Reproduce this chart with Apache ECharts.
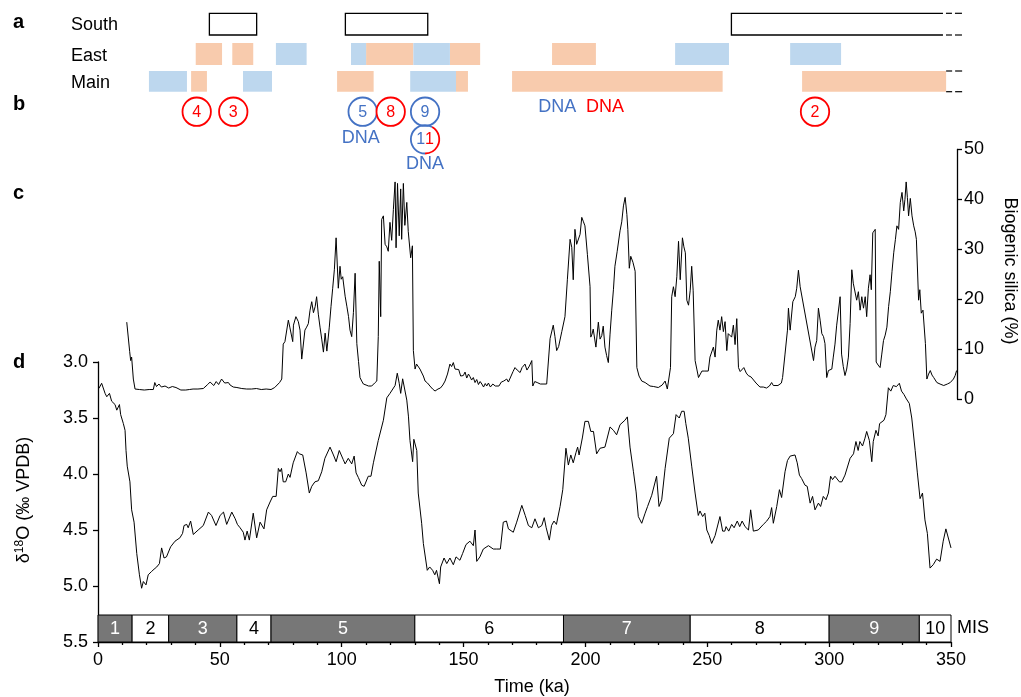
<!DOCTYPE html>
<html><head><meta charset="utf-8">
<script src="https://cdn.jsdelivr.net/npm/echarts@6.0.0/dist/echarts.min.js"></script>
<style>html,body{margin:0;padding:0;background:#fff}#c{width:1021px;height:697px}</style>
</head><body><div id="c"></div>
<script>
// ---------------- DATA ----------------
// MIS stages (boundaries in ka)
const misBounds = [0, 14, 29, 57, 71, 130, 191, 243, 300, 337, 350];
const misLabels = ['1','2','3','4','5','6','7','8','9','10'];
const misDark = [true,false,true,false,true,false,true,false,true,false];

// panel a: [start ka, end ka, openEnded]
const southBoxes = [[45.7, 65.1, 0], [101.5, 135.3, 0], [259.9, 346.7, 1]];
const eastOrange = [[40.1, 50.9, 0], [55.1, 63.7, 0], [110.0, 129.4, 0], [144.4, 156.8, 0], [186.3, 204.3, 0]];
const eastBlue = [[73.0, 85.6, 0], [103.8, 110.0, 0], [129.4, 144.4, 0], [236.8, 258.9, 0], [284.0, 304.9, 0]];
const mainOrange = [[38.2, 44.7, 0], [98.1, 113.1, 0], [146.9, 151.8, 0], [169.9, 256.3, 0], [288.9, 348.0, 1]];
const mainBlue = [[20.9, 36.5, 0], [59.5, 71.4, 0], [128.1, 146.9, 0]];
const rowNames = ['South', 'East', 'Main'];

// panel b: site markers
const circleTimes = [40.5, 55.5, 108.6, 120.1, 134.2, 294.2];
const circleLabels = ['4', '3', '5', '8', '9', '2'];
const circleColors = ['red', 'red', 'blue', 'red', 'blue', 'red'];
const splitCircleTime = 134.2;      // circle "11", half blue / half red
const splitCircleDigits = ['1', '1'];
const dnaTimes = [107.8, 134.2, 188.4, 208.0];
const dnaColors = ['blue', 'blue', 'blue', 'red'];
const dnaLevels = [1, 2, 0, 0];

// tick labels
const xTicks = [0, 50, 100, 150, 200, 250, 300, 350];
const d18oTicks = [3.0, 3.5, 4.0, 4.5, 5.0, 5.5];
const silicaTicks = [0, 10, 20, 30, 40, 50];

// panel c: biogenic silica (%) [ka, %]
const silica = [[11.8,15.4],[13.0,9.5],[13.4,7.7],[13.8,8.4],[14.5,4.0],[15.2,2.0],[17,1.9],[19,1.8],[21,1.9],[22.7,1.9],[23.3,3.3],[24,2.5],[25,3.0],[26,2.4],[27.5,2.6],[29,2.2],[30.5,2.5],[32,2.3],[34,1.8],[36,1.8],[37.5,1.9],[39,2.0],[41,2.0],[43.2,2.1],[45,2.9],[46,3.4],[47.5,2.7],[48.5,3.5],[49.5,2.9],[50.7,4.0],[52,3.2],[53.5,3.3],[54.2,2.8],[55.5,2.4],[57,2.3],[59,2.1],[61,2.0],[63,2.0],[65,2.1],[67,1.9],[69,2.0],[71,1.9],[72.5,2.3],[73.3,2.7],[74.5,3.3],[75.4,4.0],[76,11.0],[76.7,11.5],[77.4,11.3],[78.1,15.8],[78.7,14.4],[79.3,14.8],[79.9,11.5],[80.2,14.8],[81.2,16.5],[82.2,15.5],[82.9,13.8],[83.6,8.0],[84.2,8.4],[84.9,13.8],[85.6,14.4],[86.3,15.1],[87,17.8],[87.7,19.5],[88.4,17.3],[89.1,18.5],[89.7,20.5],[90.4,17.0],[91.1,14.4],[91.8,12.0],[92.5,9.4],[93.2,13.2],[93.9,9.6],[94.9,14.4],[95.6,18.5],[96.3,22.2],[97,26],[97.7,32.3],[98.6,22.2],[99.3,26.6],[99.8,24.0],[100.4,24.5],[101.4,20.6],[102.1,18.6],[102.8,16.5],[103.4,13.8],[104.1,12.5],[104.8,17.3],[105.5,25.2],[106.2,11.1],[106.9,7.5],[107.5,4.3],[108.2,3.6],[108.9,3.0],[110,2.8],[111,2.6],[112.3,2.6],[113.5,3.2],[114.4,3.6],[115,12.5],[115.4,27.6],[116,16.5],[116.4,36],[117.1,36.7],[117.8,31],[118.5,30.5],[119.1,29.6],[119.8,35.4],[120.5,31.8],[121.2,38],[121.9,43.5],[122.3,30.3],[122.9,43.2],[123.6,32.7],[124.2,42.1],[124.6,32],[125.3,43.2],[125.9,34.8],[126.7,39.4],[127.3,33.6],[128.3,28.3],[129,30.7],[129.4,9.7],[130.1,6.0],[130.7,7.0],[131.4,7.3],[132.1,6.0],[132.8,5.6],[133.5,4.6],[134.2,3.6],[135.2,3.2],[136.2,2.6],[137.3,2.0],[138.3,1.6],[139.5,2.0],[140.5,2.2],[141.5,2.8],[142.4,3.6],[143.4,5.0],[144.4,7.0],[145.1,6.5],[145.8,7.3],[146.5,6.0],[147.2,5.6],[148,5.9],[148.8,4.6],[149.9,4.7],[150.6,5.4],[151.3,4.2],[152,5.0],[152.6,4.5],[153.3,3.8],[154,4.3],[154.7,3.3],[155.4,3.9],[156.1,2.9],[156.8,3.5],[157.5,3.0],[158.2,2.4],[158.9,3.1],[159.5,2.6],[160.2,3.2],[161,2.4],[162,3.0],[163,2.6],[163.6,3.0],[164.5,2.6],[165.5,3.4],[166.5,3.6],[167.7,4.0],[168.4,3.4],[169.1,3.6],[170.3,5.5],[171.1,6.3],[172,5.8],[173.2,5.3],[174,6.3],[175.2,7.0],[176,5.8],[177,6.6],[178,7.7],[178.4,2.6],[179.2,3.5],[180.2,3.3],[181.5,3.0],[183,3.0],[184.1,3.0],[185.5,12.1],[186.8,14.8],[187.5,12.5],[188.2,9.7],[189,10.5],[190.3,13.5],[191.6,16.5],[192.6,24],[193.7,32],[194.4,30.4],[195,23.9],[195.7,34],[196.4,31],[197.1,30.7],[197.8,33],[198.5,36.4],[199.2,35.5],[199.8,34.7],[200.8,29],[201.9,22.5],[202.2,12.4],[202.7,13],[203.2,14],[204.3,10.4],[205.3,15.4],[206,12],[206.7,12.7],[207.3,14.6],[208,10.4],[208.7,8.7],[209.4,7.3],[210.1,13],[210.8,17.8],[211.5,22],[212.1,26.6],[213,29.5],[214.2,33.7],[214.9,35.5],[215.6,38.7],[216.3,40.4],[217,37],[217.4,34],[218,26.2],[218.6,28.6],[219.5,27.4],[220.4,25.6],[221.1,6.3],[222,4.6],[223.1,3.6],[224.5,3.3],[226.5,2.6],[228,2.5],[229.9,2.3],[231.5,2.8],[232.7,3.6],[233.6,2.0],[234.9,6.3],[235.4,20.5],[236.1,22.5],[236.8,20.5],[237.5,24.5],[238.2,31.6],[238.9,23.9],[239.8,32.3],[240.4,30.5],[241,29.3],[241.6,19.8],[242.3,18.8],[243,21.8],[243.6,26.6],[244.2,21.8],[245,7.7],[245.7,6.0],[246.4,4.3],[247.8,5.6],[249,5.6],[250.4,5.6],[251.1,8.4],[252.5,10.4],[253.2,8.4],[253.9,13.8],[254.5,15.8],[255.2,13.8],[255.9,16.5],[256.6,13.5],[257.3,15.5],[258,9.7],[258.6,13.1],[259.3,12.9],[260,12.4],[260.7,14.8],[261.4,10.9],[262.1,16.1],[262.8,6.3],[263.5,5.5],[264.1,5.7],[265,6.3],[266,5.2],[266.8,4.7],[268,4.4],[268.8,4.0],[270,3.2],[271.6,2.4],[273,2.4],[274.3,2.2],[275.5,2.6],[276.4,3.3],[277.1,2.7],[277.8,2.3],[279,2.7],[279.8,2.6],[280.4,3.2],[280.9,4.3],[281.9,9],[282.9,13.8],[283.3,18.2],[284,13.8],[285.1,19.5],[286.1,20.5],[286.7,22.2],[287.4,25.8],[288.1,22.5],[293.6,7.7],[294.2,10.4],[294.9,11.7],[295.6,18.2],[296.3,15.8],[297,13.1],[297.7,12.5],[298.3,11.1],[299,4.3],[299.7,5.7],[300.4,5.8],[301.1,6.0],[301.7,8.4],[302.4,11],[303.1,14.8],[303.8,14.4],[304.5,20.5],[305.1,9],[305.8,6.5],[306.5,4.7],[307.2,6],[307.9,8.4],[308.6,15.1],[309.3,25.9],[309.9,23.2],[310.6,22.9],[311.3,19.8],[312,21.5],[312.7,17.8],[313.4,20.5],[314.1,18.2],[314.8,20.5],[315.4,16.5],[316.1,22.2],[316.8,24.9],[317.3,21.9],[317.9,33.3],[318.9,34],[319.3,7.4],[320.1,6.8],[320.9,6.3],[321.6,9],[322.3,11.7],[323,12.8],[323.7,14.4],[324.4,18.5],[325.1,21.5],[325.8,25.6],[326.5,29.3],[327.2,32],[327.8,34.7],[328.5,34],[329.2,39.4],[329.9,41.4],[330.6,37.7],[331.1,40],[331.6,43.5],[332.1,40.4],[332.6,36.7],[333.3,40.2],[334,36.7],[334.7,34.7],[335.3,33.5],[335.8,32],[336.7,19.8],[337.2,21.9],[337.8,17.2],[338.5,17.8],[339.5,11.1],[340.1,4.0],[340.8,5.0],[341.5,5.7],[342.2,4.8],[342.9,4.3],[344.2,3.3],[345.5,3.0],[347,2.7],[348.5,3.0],[349.7,3.3],[351,4.0],[351.7,4.7],[352.3,5.7]];

// panel d: benthic δ18O (‰ VPDB) [ka, ‰]
const d18o = [[0.4,3.235],[1.5,3.19],[2.9,3.28],[3.6,3.31],[4.7,3.28],[5.6,3.35],[7,3.38],[7.7,3.43],[8.8,3.38],[9.3,3.47],[10.4,3.55],[11.1,3.61],[11.5,3.79],[12,3.93],[13.1,4.07],[13.8,4.32],[14.8,4.43],[15.9,4.71],[17,4.9],[17.9,5.02],[18.6,4.96],[19.7,4.99],[20.6,4.9],[22,4.87],[23,4.85],[24.1,4.83],[25.2,4.8],[26.1,4.66],[27.1,4.75],[28.1,4.74],[29.8,4.65],[31.6,4.6],[33.6,4.57],[34.7,4.53],[35.3,4.46],[36.4,4.45],[37,4.48],[38,4.42],[39.1,4.54],[41.1,4.5],[43.2,4.46],[45.3,4.34],[46.6,4.37],[48.4,4.46],[50.1,4.37],[51.5,4.34],[52.8,4.45],[54.9,4.34],[56.3,4.4],[57.2,4.45],[58.3,4.48],[59.6,4.52],[60.3,4.59],[61.2,4.51],[62.1,4.59],[63.7,4.35],[65.1,4.57],[66.5,4.43],[68.1,4.49],[69.2,4.32],[70.6,4.25],[71.7,4.2],[73.1,4.2],[74,3.95],[74.7,3.98],[75.3,3.95],[76,4.07],[77,4.07],[78.1,4.0],[78.8,4.03],[80.1,3.9],[81.8,3.8],[82.6,3.82],[84,3.83],[85.4,3.99],[86.7,4.17],[87.7,4.11],[89,4.07],[90.4,4.06],[91.8,3.98],[93.1,3.86],[95.2,3.76],[96.6,3.83],[97.7,3.89],[99,3.79],[100.6,3.87],[101.4,3.91],[102.7,3.86],[104.1,3.91],[105.1,3.84],[105.9,3.99],[106.8,4.03],[108.2,4.1],[109.2,4.11],[110.9,4.02],[112,4.02],[113,3.9],[115,3.7],[117.1,3.52],[118.5,3.32],[119.8,3.28],[121.9,3.21],[122.8,3.1],[123.6,3.19],[124.2,3.28],[125,3.15],[125.7,3.16],[126.7,3.34],[127.4,3.49],[128,3.7],[129.1,3.89],[129.6,3.69],[130.8,3.79],[131.4,4.17],[132.8,4.44],[133.5,4.62],[135.1,4.86],[136.1,4.83],[137.3,4.86],[138.2,4.9],[138.9,4.86],[140.1,4.98],[140.6,4.83],[142,4.75],[143.1,4.8],[144.4,4.75],[145.8,4.81],[146.9,4.74],[148.5,4.77],[149.6,4.71],[151,4.63],[152.6,4.6],[154,4.64],[154.7,4.5],[155.4,4.78],[156.7,4.74],[158.1,4.67],[160.2,4.64],[162.2,4.67],[163.6,4.67],[165.1,4.67],[166.3,4.43],[167.6,4.42],[168.4,4.49],[170.4,4.52],[171.8,4.43],[173.9,4.28],[175.3,4.37],[176.6,4.46],[178,4.48],[179.3,4.4],[180.7,4.48],[182.1,4.46],[183.1,4.39],[183.9,4.48],[185.2,4.59],[186.1,4.46],[187.1,4.42],[188.1,4.45],[189.6,4.29],[190.7,4.14],[192,3.77],[193,3.92],[194,3.83],[195,3.9],[196.1,3.81],[196.8,3.76],[197.4,3.83],[198.8,3.67],[199.8,3.53],[201.2,3.53],[202.2,3.62],[203.3,3.62],[204.6,3.82],[206,3.77],[208,3.76],[210.1,3.58],[211.5,3.61],[212.8,3.65],[214.2,3.56],[216.2,3.52],[217.2,3.49],[218.3,3.76],[219.7,3.98],[220.8,4.16],[221.7,4.38],[223.1,4.44],[224.5,4.35],[225.5,4.29],[227.2,4.19],[229.2,4.02],[230.2,4.29],[231.3,4.23],[232.7,3.95],[234.4,3.68],[236.1,3.64],[237.2,3.47],[238.5,3.5],[239.5,3.44],[240.5,3.44],[241.2,3.55],[242.2,3.68],[243.6,3.93],[245,4.17],[246.3,4.37],[247,4.33],[248.1,4.38],[249,4.35],[249.8,4.5],[250.8,4.55],[251.8,4.62],[253.2,4.55],[253.9,4.56],[255.2,4.38],[256.3,4.51],[257.2,4.51],[257.7,4.47],[258.8,4.51],[260,4.45],[261,4.48],[262.3,4.42],[263.3,4.47],[264.3,4.42],[265.5,4.47],[266.9,4.5],[267.8,4.32],[268.9,4.51],[270.9,4.5],[273,4.45],[274.4,4.42],[275.7,4.38],[276.4,4.3],[277.1,4.44],[278.5,4.29],[279.6,4.14],[280.5,4.21],[281.9,3.98],[282.9,3.88],[284,3.84],[286,3.83],[286.9,3.9],[287.8,4.01],[288.7,4.04],[290.1,4.1],[291,4.11],[292.2,4.26],[293.2,4.2],[294.2,4.32],[295.6,4.26],[296.5,4.29],[297.6,4.2],[298.7,4.23],[299.7,4.17],[300.6,4.02],[301.4,4.05],[302.4,4.02],[303.1,4.01],[304.2,4.07],[305.2,4.07],[306.5,4.01],[308.6,3.86],[310,3.82],[311,3.71],[311.9,3.79],[312.6,3.71],[313.7,3.75],[314.7,3.68],[315.4,3.62],[316.5,3.7],[317.5,3.89],[318.1,3.71],[319.2,3.61],[320.1,3.66],[320.7,3.55],[322.5,3.52],[323.3,3.47],[324.3,3.23],[325.3,3.26],[326.3,3.21],[327.6,3.22],[328.8,3.19],[329.7,3.26],[330.7,3.29],[331.7,3.33],[332.9,3.37],[333.9,3.5],[335.3,3.79],[336.2,3.99],[337.3,4.22],[338.3,4.17],[339.3,4.41],[340.3,4.53],[341.4,4.84],[342.7,4.81],[344.1,4.76],[345.5,4.78],[346.8,4.6],[347.9,4.49],[350,4.66]];

// ---------------- STYLE / LAYOUT ----------------
const FONT = '"Liberation Sans", Arial, Helvetica, sans-serif';
const COLORS = { red: '#FF0000', blue: '#4472C4', orangeFill: '#F8CBAD', blueFill: '#BDD7EE', misDark: '#777777' };
const LAYOUT = {
  rows: [[13.3, 35], [43, 65], [71, 91.7]],   // pixel bands of South / East / Main
  circleY: [111.7, 139.3], circleR: 14.2,
  dnaY: [107, 138.3, 164.5],
  misHeight: 27
};
const X_LEFT = 98, X_WIDTH = 853, SILICA_WIDTH = 859;

// ---------------- CHART ----------------
const chart = echarts.init(document.getElementById('c'), null, { renderer: 'canvas', width: 1021, height: 697 });

const barData = [];
southBoxes.forEach(r => barData.push([r[0], r[1], 0, 2, r[2]]));
eastOrange.forEach(r => barData.push([r[0], r[1], 1, 0, r[2]]));
eastBlue.forEach(r => barData.push([r[0], r[1], 1, 1, r[2]]));
mainOrange.forEach(r => barData.push([r[0], r[1], 2, 0, r[2]]));
mainBlue.forEach(r => barData.push([r[0], r[1], 2, 1, r[2]]));

function renderBar(params, api) {
  const s = api.value(0), e = api.value(1), row = api.value(2), kind = api.value(3), open = api.value(4);
  const x0 = api.coord([s, 0])[0], x1 = api.coord([e, 0])[0];
  const top = LAYOUT.rows[row][0], bot = LAYOUT.rows[row][1];
  const ch = [];
  if (kind === 2) {
    if (open) {
      ch.push({ type: 'polyline', shape: { points: [[x1, top], [x0, top], [x0, bot], [x1, bot]] }, style: { stroke: '#000', fill: null, lineWidth: 1.3 } });
    } else {
      ch.push({ type: 'rect', shape: { x: x0, y: top, width: x1 - x0, height: bot - top }, style: { stroke: '#000', fill: '#fff', lineWidth: 1.3 } });
    }
  } else {
    ch.push({ type: 'rect', shape: { x: x0, y: top, width: x1 - x0, height: bot - top }, style: { fill: kind === 0 ? COLORS.orangeFill : COLORS.blueFill } });
  }
  if (open) {
    const xs = kind === 2 ? x1 + 3 : x1;
    [top, bot].forEach(y => {
      ch.push({ type: 'line', shape: { x1: xs, y1: y, x2: xs + 6, y2: y }, style: { stroke: '#000', lineWidth: 1.2 } });
      ch.push({ type: 'line', shape: { x1: xs + 9, y1: y, x2: xs + 16, y2: y }, style: { stroke: '#000', lineWidth: 1.2 } });
    });
  }
  return { type: 'group', children: ch };
}

// markers (circles + DNA labels) – one item per mark
const markData = [];
circleTimes.forEach((t, i) => markData.push({ value: [t, 0], kind: 'circle', label: circleLabels[i], color: circleColors[i] }));
markData.push({ value: [splitCircleTime, 1], kind: 'split' });
dnaTimes.forEach((t, i) => markData.push({ value: [t, dnaLevels[i]], kind: 'dna', color: dnaColors[i], level: dnaLevels[i] }));

function renderMark(params, api) {
  const m = markData[params.dataIndex];
  const x = api.coord([api.value(0), 0])[0];
  const R = LAYOUT.circleR;
  if (m.kind === 'circle') {
    const y = LAYOUT.circleY[0], c = COLORS[m.color];
    return { type: 'group', children: [
      { type: 'circle', shape: { cx: x, cy: y, r: R }, style: { fill: '#fff', stroke: c, lineWidth: 1.8 } },
      { type: 'text', x: x, y: y + 0.5, style: { text: m.label, fill: c, font: '16px ' + FONT, align: 'center', verticalAlign: 'middle' } }
    ] };
  }
  if (m.kind === 'split') {
    const y = LAYOUT.circleY[1];
    return { type: 'group', children: [
      { type: 'arc', shape: { cx: x, cy: y, r: R, startAngle: Math.PI / 2, endAngle: Math.PI * 5 / 3, clockwise: true }, style: { fill: null, stroke: COLORS.blue, lineWidth: 1.8 } },
      { type: 'arc', shape: { cx: x, cy: y, r: R, startAngle: -Math.PI / 3, endAngle: Math.PI / 2, clockwise: true }, style: { fill: null, stroke: COLORS.red, lineWidth: 1.8 } },
      { type: 'text', x: x, y: y + 0.5, style: { text: '{b|' + splitCircleDigits[0] + '}{r|' + splitCircleDigits[1] + '}', align: 'center', verticalAlign: 'middle',
        rich: { b: { fill: COLORS.blue, font: '16px ' + FONT }, r: { fill: COLORS.red, font: '16px ' + FONT } } } }
    ] };
  }
  const y = LAYOUT.dnaY[m.level];
  return { type: 'text', x: x, y: y, style: { text: 'DNA', fill: COLORS[m.color], font: '18px ' + FONT, align: 'center', verticalAlign: 'middle' } };
}

const misData = misLabels.map((l, i) => [misBounds[i], misBounds[i + 1], i]);
function renderMis(params, api) {
  const i = api.value(2);
  const p0 = api.coord([api.value(0), 5.5]), p1 = api.coord([api.value(1), 5.5]);
  const h = LAYOUT.misHeight;
  const dark = misDark[i];
  return { type: 'group', children: [
    { type: 'rect', shape: { x: p0[0], y: p0[1] - h, width: p1[0] - p0[0], height: h }, style: { fill: dark ? COLORS.misDark : '#fff', stroke: '#000', lineWidth: 1 } },
    { type: 'text', x: (p0[0] + p1[0]) / 2, y: p0[1] - h / 2 + 0.5, style: { text: misLabels[i], fill: dark ? '#fff' : '#000', font: '18px ' + FONT, align: 'center', verticalAlign: 'middle' } }
  ] };
}

const axisText = { color: '#000', fontSize: 18, fontFamily: FONT };

chart.setOption({
  animation: false,
  backgroundColor: '#fff',
  grid: [
    { left: X_LEFT, top: 362, width: X_WIDTH, height: 280 },
    { left: X_LEFT, top: 149.5, width: SILICA_WIDTH, height: 249.5 },
    { left: X_LEFT, top: 0, width: X_WIDTH, height: 180 }
  ],
  xAxis: [
    { gridIndex: 0, type: 'value', min: xTicks[0], max: xTicks[xTicks.length - 1], interval: 50,
      axisLine: { show: true, onZero: false, lineStyle: { color: '#000', width: 1.3 } },
      axisTick: { show: true, length: 5, lineStyle: { color: '#000', width: 1.3 } },
      minorTick: { show: true, splitNumber: 5, length: 3, lineStyle: { color: '#000', width: 1.3 } },
      axisLabel: Object.assign({ margin: 9 }, axisText), splitLine: { show: false } },
    { gridIndex: 1, type: 'value', min: 0, max: 350 * SILICA_WIDTH / X_WIDTH, show: false },
    { gridIndex: 2, type: 'value', min: 0, max: 350, show: false }
  ],
  yAxis: [
    { gridIndex: 0, type: 'value', inverse: true, min: d18oTicks[0], max: d18oTicks[d18oTicks.length - 1], interval: 0.5,
      axisLine: { show: true, onZero: false, lineStyle: { color: '#000', width: 1.3 } },
      axisTick: { show: true, length: 5, lineStyle: { color: '#000', width: 1.3 } },
      axisLabel: Object.assign({ margin: 10, formatter: v => v.toFixed(1) }, axisText), splitLine: { show: false } },
    { gridIndex: 1, type: 'value', position: 'right', min: silicaTicks[0], max: silicaTicks[silicaTicks.length - 1], interval: 10,
      axisLine: { show: true, onZero: false, lineStyle: { color: '#000', width: 1.3 } },
      axisTick: { show: true, length: 5, lineStyle: { color: '#000', width: 1.3 } },
      axisLabel: Object.assign({ margin: 7 }, axisText), splitLine: { show: false } },
    { gridIndex: 2, type: 'value', min: 0, max: 1, show: false }
  ],
  series: [
    { type: 'custom', xAxisIndex: 0, yAxisIndex: 0, renderItem: renderMis, data: misData, z: 1 },
    { type: 'line', xAxisIndex: 0, yAxisIndex: 0, data: d18o, showSymbol: false, symbol: 'none',
      lineStyle: { color: '#000', width: 1 }, z: 3 },
    { type: 'line', xAxisIndex: 1, yAxisIndex: 1, data: silica, showSymbol: false, symbol: 'none',
      lineStyle: { color: '#000', width: 1 }, z: 3 },
    { type: 'custom', xAxisIndex: 2, yAxisIndex: 2, renderItem: renderBar, data: barData, clip: false, z: 2 },
    { type: 'custom', xAxisIndex: 2, yAxisIndex: 2, renderItem: renderMark, data: markData.map(m => m.value), clip: false, z: 4 }
  ],
  graphic: [
    { type: 'text', x: 13, y: 22, style: { text: 'a', font: 'bold 20px ' + FONT, fill: '#000', verticalAlign: 'middle' } },
    { type: 'text', x: 13, y: 104, style: { text: 'b', font: 'bold 20px ' + FONT, fill: '#000', verticalAlign: 'middle' } },
    { type: 'text', x: 13, y: 193, style: { text: 'c', font: 'bold 20px ' + FONT, fill: '#000', verticalAlign: 'middle' } },
    { type: 'text', x: 13, y: 362, style: { text: 'd', font: 'bold 20px ' + FONT, fill: '#000', verticalAlign: 'middle' } },
    { type: 'text', x: 71, y: 25.5, style: { text: rowNames[0], font: '18px ' + FONT, fill: '#000', verticalAlign: 'middle' } },
    { type: 'text', x: 71, y: 56, style: { text: rowNames[1], font: '18px ' + FONT, fill: '#000', verticalAlign: 'middle' } },
    { type: 'text', x: 71, y: 83, style: { text: rowNames[2], font: '18px ' + FONT, fill: '#000', verticalAlign: 'middle' } },
    { type: 'text', x: 532, y: 687, style: { text: 'Time (ka)', font: '18px ' + FONT, fill: '#000', align: 'center', verticalAlign: 'middle' } },
    { type: 'text', x: 957, y: 628, style: { text: 'MIS', font: '18px ' + FONT, fill: '#000', verticalAlign: 'middle' } },
    { type: 'text', x: 1010, y: 271, rotation: -Math.PI / 2, style: { text: 'Biogenic silica (%)', font: '18px ' + FONT, fill: '#000', align: 'center', verticalAlign: 'middle' } },
    { type: 'text', x: 24, y: 500, rotation: Math.PI / 2, style: { text: '{n|δ}{s|18}{n|O (‰ VPDB)}', align: 'center', verticalAlign: 'middle',
      rich: { n: { font: '18px ' + FONT, fill: '#000', lineHeight: 20 }, s: { font: '12px ' + FONT, fill: '#000', verticalAlign: 'top', lineHeight: 20 } } } }
  ]
});
</script>
</body></html>
